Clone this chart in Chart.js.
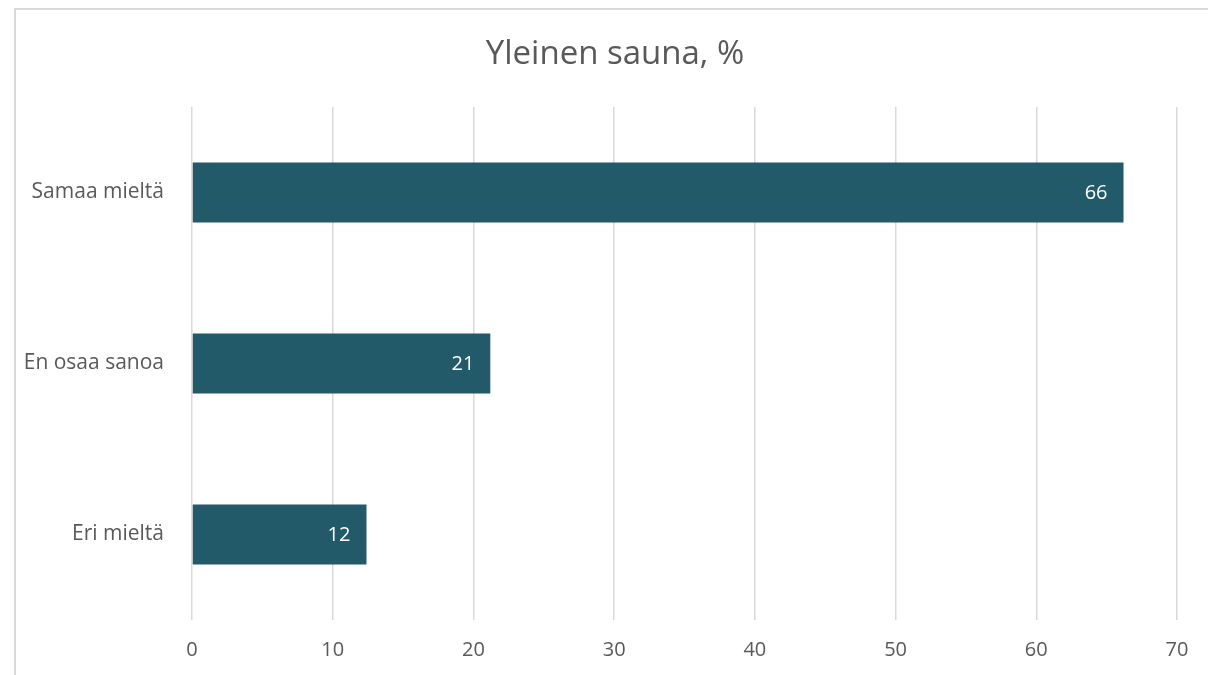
<!DOCTYPE html>
<html>
<head>
<meta charset="utf-8">
<script src="https://cdn.jsdelivr.net/npm/chart.js@4.4.1/dist/chart.umd.min.js"></script>
<style>
  html, body { margin: 0; padding: 0; background: #fff; overflow: hidden; }
  .frame {
    position: absolute; left: 14px; top: 8px; width: 1194px; height: 667px;
    border-left: 2px solid #d9d9d9; border-top: 2px solid #d9d9d9;
  }
  .frame canvas { display: block; }
</style>
</head>
<body>
<div class="frame"><canvas id="chart" width="1192" height="665"></canvas></div>
<script>
const chartTitle = 'Yleinen sauna, %'
const categories = ['Samaa mieltä', 'En osaa sanoa', 'Eri mieltä']
const values = [66.2, 21.2, 12.4]
const xTicks = [0, 10, 20, 30, 40, 50, 60, 70]

const fontFamily = '"Open Sans", "Noto Sans", sans-serif'
const textColor = '#595959'
const barColor = '#225a69'

// title centred on the whole frame (the built-in one centres on the padded box)
const frameTitle = {
    id: 'frameTitle',
    afterDraw(chart) {
        const ctx = chart.ctx
        ctx.save()
        ctx.fillStyle = textColor
        ctx.font = `33px ${fontFamily}`
        ctx.textAlign = 'center'
        ctx.textBaseline = 'alphabetic'
        ctx.fillText(chartTitle, chart.width / 2 + 3, 54)
        ctx.restore()
    }
}

// white value labels at the inner end of each bar
const valueLabels = {
    id: 'valueLabels',
    afterDatasetsDraw(chart) {
        const ctx = chart.ctx
        const meta = chart.getDatasetMeta(0)
        ctx.save()
        ctx.fillStyle = '#ffffff'
        ctx.font = `20px ${fontFamily}`
        ctx.textAlign = 'right'
        ctx.textBaseline = 'middle'
        meta.data.forEach((bar, i) => {
            ctx.fillText(String(Math.round(values[i])), bar.x - 16, bar.y + 1)
        })
        ctx.restore()
    }
}

new Chart(document.getElementById('chart').getContext('2d'), {
    type: 'bar',
    data: {
        labels: categories,
        datasets: [{
            data: values,
            backgroundColor: barColor,
            borderWidth: 0,
            categoryPercentage: 1,
            barPercentage: 0.35
        }]
    },
    options: {
        indexAxis: 'y',
        responsive: false,
        animation: false,
        layout: { padding: { left: 0, right: 31, top: 97, bottom: 10 } },
        plugins: {
            legend: { display: false },
            tooltip: { enabled: false },
            title: { display: false }
        },
        scales: {
            x: {
                min: 0,
                max: 70,
                afterBuildTicks: (scale) => { scale.ticks = xTicks.map(v => ({ value: v })) },
                afterFit: (scale) => { scale.height = 45 },
                grid: { color: '#d9d9d9', lineWidth: 1.5, drawTicks: false },
                border: { display: false },
                ticks: {
                    color: textColor,
                    font: { family: fontFamily, size: 20 },
                    padding: 18
                }
            },
            y: {
                grid: { display: false, drawTicks: false },
                border: { display: false },
                afterFit: (scale) => { scale.width = 176 },
                ticks: {
                    color: textColor,
                    font: { family: fontFamily, size: 21 },
                    padding: 28
                }
            }
        }
    },
    plugins: [valueLabels, frameTitle]
})
</script>
</body>
</html>
